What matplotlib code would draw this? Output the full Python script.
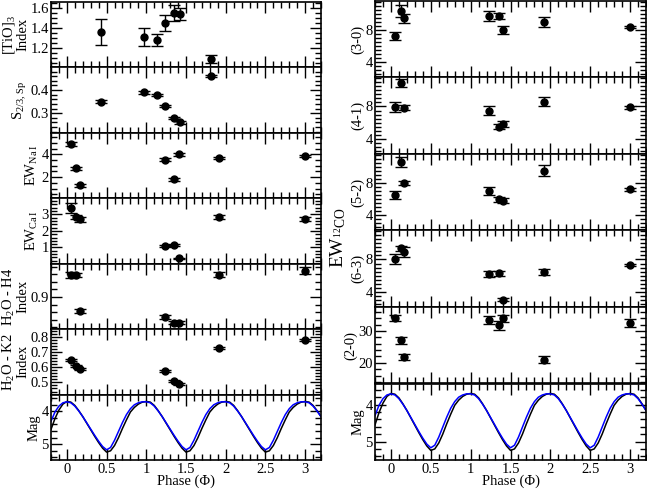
import numpy as np
import matplotlib
matplotlib.use('Agg')
import matplotlib.pyplot as plt
from matplotlib.ticker import MultipleLocator, FuncFormatter

plt.rcParams['font.family'] = ['Liberation Serif', 'DejaVu Serif']
plt.rcParams['mathtext.fontset'] = 'custom'
plt.rcParams['mathtext.rm'] = 'Liberation Serif'
plt.rcParams['mathtext.it'] = 'Liberation Serif:italic'

# phases of the optical (TiO / S) spectra and of the IR spectra
phase_opt = [0.43, 0.97, 1.14, 1.23, 1.35, 1.42, 1.82]
phase_ir = [0.05, 0.12, 0.17, 1.23, 1.35, 1.41, 1.92, 3.00]

tio = [1.36, 1.31, 1.28, 1.45, 1.55, 1.54, 1.09]
tio_err = [0.13, 0.09, 0.06, 0.08, 0.08, 0.06, 0.04]
s23 = [0.35, 0.39, 0.38, 0.33, 0.28, 0.26, 0.46]
s23_err = [0.005] * 7

ew_na = [4.90, 2.77, 1.27, 3.53, 1.80, 4.00, 3.70, 3.88]
ew_na_err = [0.20, 0.15, 0.12, 0.12, 0.12, 0.12, 0.10, 0.10]
ew_ca = [3.40, 2.84, 2.70, 1.08, 1.14, 0.34, 2.84, 2.72]
ew_ca_err = [0.30, 0.12, 0.15, 0.08, 0.08, 0.05, 0.15, 0.15]
h2o_h4 = [0.957, 0.959, 0.864, 0.848, 0.832, 0.832, 0.959, 0.970]
h2o_h4_err = [0.008, 0.005, 0.005, 0.005, 0.004, 0.004, 0.006, 0.010]
h2o_k2 = [0.650, 0.605, 0.590, 0.575, 0.510, 0.490, 0.725, 0.777]
h2o_k2_err = [0.007] * 8

co_30 = [7.30, 10.36, 9.43, 9.75, 9.75, 7.96, 8.98, 8.37]
co_30_err = [0.5, 0.7, 0.6, 0.6, 0.4, 0.5, 0.6, 0.15]
co_41 = [7.95, 10.90, 7.85, 7.50, 5.50, 5.85, 8.60, 7.90]
co_41_err = [0.6, 0.5, 0.3, 0.5, 0.3, 0.35, 0.6, 0.15]
co_52 = [6.50, 10.60, 8.00, 7.05, 5.95, 5.80, 9.55, 7.20]
co_52_err = [0.5, 0.6, 0.3, 0.5, 0.3, 0.3, 0.7, 0.15]
co_63 = [8.10, 9.40, 8.95, 6.20, 6.30, 3.00, 6.45, 7.35]
co_63_err = [0.6, 0.3, 0.6, 0.4, 0.3, 0.2, 0.4, 0.15]
co_20 = [34.0, 27.0, 21.8, 33.4, 31.7, 33.9, 21.0, 32.4]
co_20_err = [1.0, 1.2, 1.0, 1.2, 1.3, 1.2, 1.2, 1.3]

# light curves, sampled every 0.05 in phase from -0.2 to 3.2
curve_phase = np.round(np.arange(-0.20, 3.2001, 0.05), 2)
mag_black = [4.55, 4.22, 3.96, 3.78,
             3.70, 3.72, 3.82, 3.98, 4.16, 4.36, 4.56, 4.76, 4.95, 5.12,
             5.24, 5.20, 5.04, 4.80, 4.52, 4.26, 4.02, 3.88, 3.78, 3.72,
             3.70, 3.72, 3.82, 3.98, 4.16, 4.36, 4.56, 4.76, 4.95, 5.12,
             5.24, 5.20, 5.04, 4.80, 4.52, 4.26, 4.02, 3.88, 3.78, 3.72,
             3.70, 3.72, 3.82, 3.98, 4.16, 4.36, 4.56, 4.76, 4.95, 5.12,
             5.24, 5.20, 5.04, 4.80, 4.52, 4.26, 4.02, 3.88, 3.78, 3.72,
             3.70, 3.72, 3.82, 3.98, 4.16]
mag_blue = [4.30, 4.02, 3.84, 3.74,
            3.71, 3.74, 3.84, 3.99, 4.16, 4.35, 4.54, 4.73, 4.91, 5.07,
            5.17, 5.10, 4.88, 4.61, 4.34, 4.10, 3.92, 3.80, 3.74, 3.71,
            3.71, 3.74, 3.84, 3.99, 4.16, 4.35, 4.54, 4.73, 4.91, 5.07,
            5.17, 5.10, 4.88, 4.61, 4.34, 4.10, 3.92, 3.80, 3.74, 3.71,
            3.71, 3.74, 3.84, 3.99, 4.16, 4.35, 4.54, 4.73, 4.91, 5.07,
            5.17, 5.10, 4.88, 4.61, 4.34, 4.10, 3.92, 3.80, 3.74, 3.71,
            3.71, 3.74, 3.84, 3.99, 4.16]

W, H = 647, 490
fig = plt.figure(figsize=(W / 100, H / 100), dpi=100)


def make_axes(x0, x1, top, bottom, n):
    h = (bottom - top) / n
    axes = []
    for i in range(n):
        y_top = top + i * h
        axes.append(fig.add_axes([x0 / W, 1 - (y_top + h) / H, (x1 - x0) / W, h / H]))
    return axes


def style(ax, yticks, yminor, ylim, label, bottom=False):
    ax.set_xlim(-0.2, 3.2)
    ax.set_ylim(*ylim)
    ax.xaxis.set_major_locator(MultipleLocator(0.5))
    ax.xaxis.set_minor_locator(MultipleLocator(0.1))
    ax.xaxis.set_major_formatter(FuncFormatter(lambda v, p: f'{v:g}'))
    ax.set_yticks(yticks)
    ax.yaxis.set_minor_locator(MultipleLocator(yminor))
    ax.yaxis.set_major_formatter(FuncFormatter(lambda v, p: f'{v:g}'))
    ax.tick_params(which='both', direction='in', top=True, right=True,
                   width=1, labelsize=10.5, pad=1.5)
    ax.tick_params(which='major', length=8)
    ax.tick_params(which='minor', length=4)
    ax.tick_params(labelbottom=bottom)
    for s in ax.spines.values():
        s.set_linewidth(1.2)
    ax.set_ylabel(label, fontsize=10.5, labelpad=1, linespacing=0.95)
    if bottom:
        ax.tick_params(axis='x', pad=2)
        ax.set_xlabel('Phase (Φ)', fontsize=10.5, labelpad=-1)


def points(ax, x, y, err):
    ax.errorbar(x, y, yerr=err, fmt='o', color='black', ms=5,
                ecolor='black', elinewidth=1, capsize=4, capthick=1)


def light_curve(ax):
    ax.plot(curve_phase, mag_black, color='black', lw=1.1)
    ax.plot(curve_phase, mag_blue, color='#0000ff', lw=1.1)


left = make_axes(51, 321, 2, 460, 7)
right = make_axes(375, 646, 1, 460, 6)

# left column
points(left[0], phase_opt, tio, tio_err)
style(left[0], [1.2, 1.4, 1.6], 0.05, (1.01, 1.655), '[TiO]$_3$\nIndex')
points(left[1], phase_opt, s23, s23_err)
style(left[1], [0.3, 0.4], 0.02, (0.215, 0.498), 'S$_{2/3,\\,\\mathrm{Sp}}$')
points(left[2], phase_ir, ew_na, ew_na_err)
style(left[2], [2, 4], 0.5, (0.15, 5.88), 'EW$_{\\mathrm{Na\\,I}}$')
points(left[3], phase_ir, ew_ca, ew_ca_err)
style(left[3], [1, 2, 3], 0.2, (0.02, 3.97), 'EW$_{\\mathrm{Ca\\,I}}$')
points(left[4], phase_ir, h2o_h4, h2o_h4_err)
style(left[4], [0.9], 0.02, (0.815, 0.988), 'H$_2$O - H4\nIndex')
points(left[5], phase_ir, h2o_k2, h2o_k2_err)
style(left[5], [0.5, 0.6, 0.7, 0.8], 0.02, (0.42, 0.85), 'H$_2$O - K2\nIndex')
light_curve(left[6])
style(left[6], [4, 5], 0.2, (5.48, 3.49), 'Mag', bottom=True)

# right column
co_sets = [(co_30, co_30_err, '(3-0)'), (co_41, co_41_err, '(4-1)'),
           (co_52, co_52_err, '(5-2)'), (co_63, co_63_err, '(6-3)')]
for ax, (vals, errs, lab) in zip(right[:4], co_sets):
    points(ax, phase_ir, vals, errs)
    style(ax, [4, 8], 0.5, (2.1, 11.6), lab)
points(right[4], phase_ir, co_20, co_20_err)
style(right[4], [20, 30], 2, (13.5, 37.5), '(2-0)')
light_curve(right[5])
style(right[5], [4, 5], 0.2, (5.5, 3.43), 'Mag', bottom=True)

fig.text(338 / W, 1 - 238 / H, 'EW$_{^{12}\\mathrm{CO}}$', rotation=90,
         fontsize=14, ha='center', va='center')

fig.savefig('out.png', dpi=100)
